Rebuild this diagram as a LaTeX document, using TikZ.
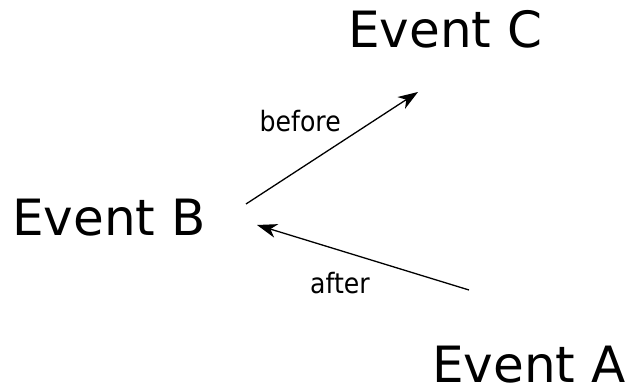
\documentclass[tikz,border=0pt]{standalone}
\usepackage{fontspec}
\setmainfont{DejaVu Sans}
\newfontfamily\labelfont[FakeStretch=0.9]{DejaVu Sans}
\usetikzlibrary{arrows.meta}

\tikzset{
  event/.style={inner sep=0pt, anchor=base west, font=\fontsize{50}{60}\selectfont},
  rel/.style={inner sep=0pt, anchor=base west, font=\labelfont\fontsize{28}{34}\selectfont},
  link/.style={line width=1.3pt, -{Stealth[length=20pt,width=14pt,inset=6pt]}}
}

\begin{document}
\begin{tikzpicture}[x=1pt,y=-1pt]
  \useasboundingbox (0,0) rectangle (626,387);

  % the three events
  \node[event] (evC) at (348,48) {Event C};
  \node[event] (evB) at (12,236) {Event B};
  \node[event] (evA) at (432,382) {Event A};

  % relation labels
  \node[rel] (lbBefore) at (259.5,132) {before};
  \node[rel] (lbAfter) at (310,294) {after};

  % arrow end points
  \coordinate (bOut) at (246,204);
  \coordinate (cIn) at (418,92);
  \coordinate (aOut) at (469,290);
  \coordinate (bIn) at (257,225);

  \draw[link] (bOut) -- (cIn);
  \draw[link] (aOut) -- (bIn);
\end{tikzpicture}
\end{document}
